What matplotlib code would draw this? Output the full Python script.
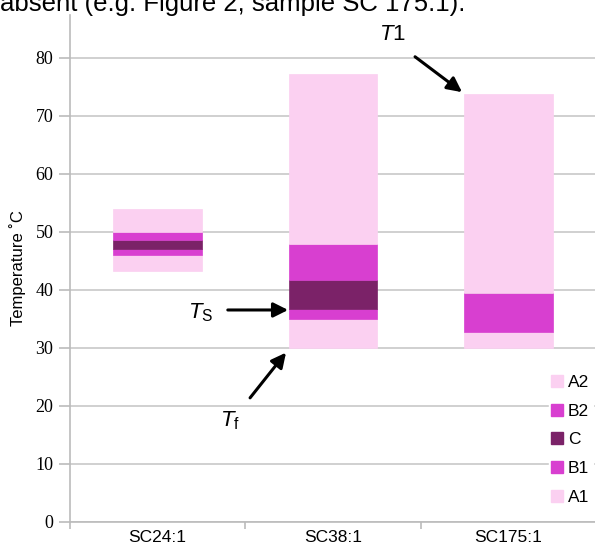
import matplotlib.pyplot as plt
from matplotlib.lines import Line2D
import numpy as np

plt.rcParams['mathtext.fontset'] = 'custom'
plt.rcParams['mathtext.it'] = 'Liberation Sans:italic'
plt.rcParams['mathtext.rm'] = 'Liberation Sans'
plt.rcParams['font.family'] = 'Liberation Sans'

samples = ["SC24:1", "SC38:1", "SC175:1"]
# floating stacked bars: invisible base, then phase widths (deg C)
base = [43.3, 30.0, 30.0]
A1 = [2.7, 5.0, 2.8]
B1 = [1.1, 1.7, 6.7]
C = [1.5, 5.0, 0.0]
B2 = [1.4, 6.3, 0.0]
A2 = [4.0, 29.2, 34.3]

phases = ["A1", "B1", "C", "B2", "A2"]
widths = [A1, B1, C, B2, A2]
pink = "#fbd0f1"
magenta = "#d83fd0"
dark = "#7b2268"
cols = [pink, magenta, dark, magenta, pink]

fig = plt.figure(figsize=(5.95, 5.47), dpi=100)
ax = fig.add_axes([70/595, 1-522/547, 526/595, 507/547])

x = np.arange(len(samples))
bottom = np.array(base)
for w, c in zip(widths, cols):
    ax.bar(x, w, 0.505, bottom=bottom, color=c, edgecolor=c, lw=0.5, zorder=3)
    bottom = bottom + np.array(w)

ax.set_xlim(-0.5, 2.5)
ax.set_ylim(0, 87.4)
ax.set_yticks(range(0, 81, 10))
ax.yaxis.grid(True, color="#c8c8c8", lw=1.2, zorder=0)
ax.set_xticks([-0.5, 0.5, 1.5, 2.5])
ax.set_xticklabels([])
ax.set_xticks(x, minor=True)
ax.set_xticklabels(samples, minor=True, fontsize=12.5)
ax.tick_params(axis="x", which="major", length=5, color="#bbbbbb", width=1.2)
ax.tick_params(axis="x", which="minor", length=0, pad=6)
ax.tick_params(axis="y", length=8, color="#bbbbbb", width=1.2, pad=4)
for lab in ax.get_yticklabels():
    lab.set_fontfamily("Liberation Serif")
    lab.set_fontsize(13)
for s in ["top", "right"]:
    ax.spines[s].set_visible(False)
for s in ["left", "bottom"]:
    ax.spines[s].set_color("#bbbbbb")
    ax.spines[s].set_linewidth(1.2)
ax.set_ylabel("Temperature ˚C", fontsize=12, labelpad=7)

handles = [Line2D([], [], marker="s", ls="none", color=c, markersize=8.5)
           for c in cols]
leg = ax.legend(handles[::-1], phases[::-1], loc="lower right",
                bbox_to_anchor=(1.01, 0.01), frameon=True, fontsize=12.5,
                handlelength=0.6, handletextpad=0.3, labelspacing=0.78,
                borderpad=0.2, facecolor="white", edgecolor="white",
                framealpha=1)
leg.set_zorder(5)

arr = dict(arrowstyle="-|>", color="black", lw=2.2, mutation_scale=22,
           shrinkA=0, shrinkB=0)
# T1: upper limit of SC175:1
ax.text(1.337, 84.0, r"$T$1", fontsize=16, ha="center", va="center")
ax.annotate("", xy=(1.736, 74.1), xytext=(1.468, 80.2), arrowprops=arr)
# Ts: onset of C in SC38:1
ax.text(0.247, 36.0, r"$T_{\mathrm{S}}$", fontsize=16, ha="center", va="center")
ax.annotate("", xy=(0.744, 36.55), xytext=(0.40, 36.55), arrowprops=arr)
# Tf: lower limit of SC38:1
ax.text(0.413, 17.4, r"$T_{\mathrm{f}}$", fontsize=16, ha="center", va="center")
ax.annotate("", xy=(0.732, 29.2), xytext=(0.527, 21.4), arrowprops=arr)

fig.text(0.0, 1 - 10.5/547, "absent (e.g. Figure 2, sample SC 175:1).",
         fontsize=18.5, va="baseline", ha="left")

fig.savefig("out.png", dpi=100)
